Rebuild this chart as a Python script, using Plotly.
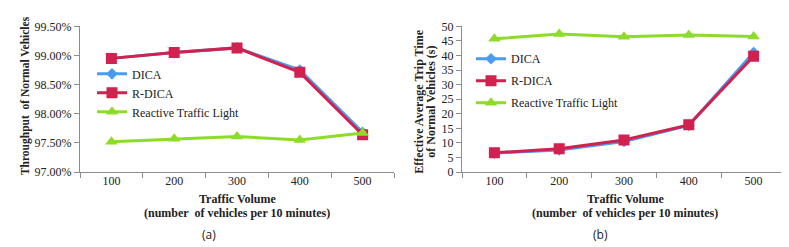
import plotly.graph_objects as go

categories = ["100", "200", "300", "400", "500"]

# (a) Throughput of normal vehicles (%)
thr_dica = [98.95, 99.05, 99.13, 98.75, 97.68]
thr_rdica = [98.95, 99.05, 99.13, 98.71, 97.64]
thr_rtl = [97.52, 97.57, 97.61, 97.55, 97.67]
thr_ticks = [97.0, 97.5, 98.0, 98.5, 99.0, 99.5]
thr_tick_labels = ["97.00%", "97.50%", "98.00%", "98.50%", "99.00%", "99.50%"]

# (b) Effective average trip time (s)
trip_dica = [6.5, 7.6, 10.5, 16.0, 41.0]
trip_rdica = [6.6, 8.0, 11.0, 16.2, 39.7]
trip_rtl = [45.7, 47.4, 46.4, 47.0, 46.5]

series_names = ["DICA", "R-DICA", "Reactive Traffic Light"]
colors = ["#4a9cf0", "#d0214f", "#8edc2a"]
symbols = ["diamond", "square", "triangle-up"]
msizes = [9, 11, 11]

SERIF = "Liberation Serif"

fig = go.Figure()

for i, (name, ys) in enumerate(zip(series_names, [thr_dica, thr_rdica, thr_rtl])):
    fig.add_trace(go.Scatter(
        x=categories, y=ys, name=name, mode="lines+markers",
        line=dict(color=colors[i], width=3),
        marker=dict(symbol=symbols[i], size=msizes[i], color=colors[i]),
        xaxis="x", yaxis="y", legend="legend",
    ))

for i, (name, ys) in enumerate(zip(series_names, [trip_dica, trip_rdica, trip_rtl])):
    fig.add_trace(go.Scatter(
        x=categories, y=ys, name=name, mode="lines+markers",
        line=dict(color=colors[i], width=3),
        marker=dict(symbol=symbols[i], size=msizes[i], color=colors[i]),
        xaxis="x2", yaxis="y2", legend="legend2", legendgroup="g%d" % i,
    ))

axis_common = dict(
    showline=True, linecolor="#8c8c8c", linewidth=1, showgrid=False, zeroline=False,
    ticks="outside", ticklen=5, tickcolor="#8c8c8c",
    tickfont=dict(family=SERIF, size=12, color="#222"),
)

ydom = [1 - 166.5 / 247, 1 - 12 / 247]

fig.update_layout(
    width=789, height=247,
    margin=dict(l=0, r=0, t=0, b=0),
    paper_bgcolor="white", plot_bgcolor="white",
    xaxis=dict(domain=[72 / 789, 386 / 789], type="category", range=[-0.5, 4.5],
               tickson="boundaries", anchor="y", ticklabelstandoff=-2, **axis_common),
    yaxis=dict(domain=ydom, range=[97.0, 99.5], tickvals=thr_ticks, ticktext=thr_tick_labels,
               anchor="x", **axis_common),
    xaxis2=dict(domain=[454 / 789, 778 / 789], type="category", range=[-0.5, 4.5],
                tickson="boundaries", anchor="y2", ticklabelstandoff=-2, **axis_common),
    yaxis2=dict(domain=ydom, range=[0, 50], dtick=5, anchor="x2", **axis_common),
    legend=dict(x=84 / 789, y=1 - 47 / 247, xanchor="left", yanchor="top",
                bgcolor="rgba(0,0,0,0)", font=dict(family=SERIF, size=12, color="#222"),
                itemwidth=30, tracegroupgap=0),
    legend2=dict(x=463 / 789, y=1 - 31 / 247, xanchor="left", yanchor="top",
                 bgcolor="rgba(0,0,0,0)", font=dict(family=SERIF, size=12, color="#222"),
                 itemwidth=30, tracegroupgap=3),
    showlegend=True,
)

title_font = dict(family=SERIF, size=12, color="#222")
ann = [
    dict(x=229, y=195, text="<b>Traffic Volume</b>"),
    dict(x=229, y=210, text="<b>(number  of vehicles per 10 minutes)</b>"),
    dict(x=617, y=195, text="<b>Traffic Volume</b>"),
    dict(x=617, y=210, text="<b>(number  of vehicles per 10 minutes)</b>"),
]
for a in ann:
    fig.add_annotation(x=a["x"] / 789, y=1 - a["y"] / 247, xref="paper", yref="paper",
                       text=a["text"], showarrow=False, font=title_font,
                       xanchor="center", yanchor="middle")

fig.add_annotation(x=17 / 789, y=1 - 86 / 247, xref="paper", yref="paper",
                   text="<b>Throughput  of Normal Vehicles</b>", textangle=-90,
                   showarrow=False, font=dict(family=SERIF, size=11.5, color="#222"),
                   xanchor="center", yanchor="middle")
fig.add_annotation(x=411 / 789, y=1 - 92 / 247, xref="paper", yref="paper",
                   text="<b>Effective Average Trip Time</b>",
                   textangle=-90, showarrow=False, font=title_font,
                   xanchor="center", yanchor="middle")
fig.add_annotation(x=423 / 789, y=1 - 92 / 247, xref="paper", yref="paper",
                   text="<b>of Normal Vehicles (s)</b>",
                   textangle=-90, showarrow=False, font=title_font,
                   xanchor="center", yanchor="middle")

cap_font = dict(family="Open Sans", size=12, color="#222")
fig.add_annotation(x=201 / 789, y=1 - 233 / 247, xref="paper", yref="paper", text="(a)",
                   showarrow=False, font=cap_font, xanchor="center", yanchor="middle")
fig.add_annotation(x=592 / 789, y=1 - 233 / 247, xref="paper", yref="paper", text="(b)",
                   showarrow=False, font=cap_font, xanchor="center", yanchor="middle")

fig.write_html("out.html")
